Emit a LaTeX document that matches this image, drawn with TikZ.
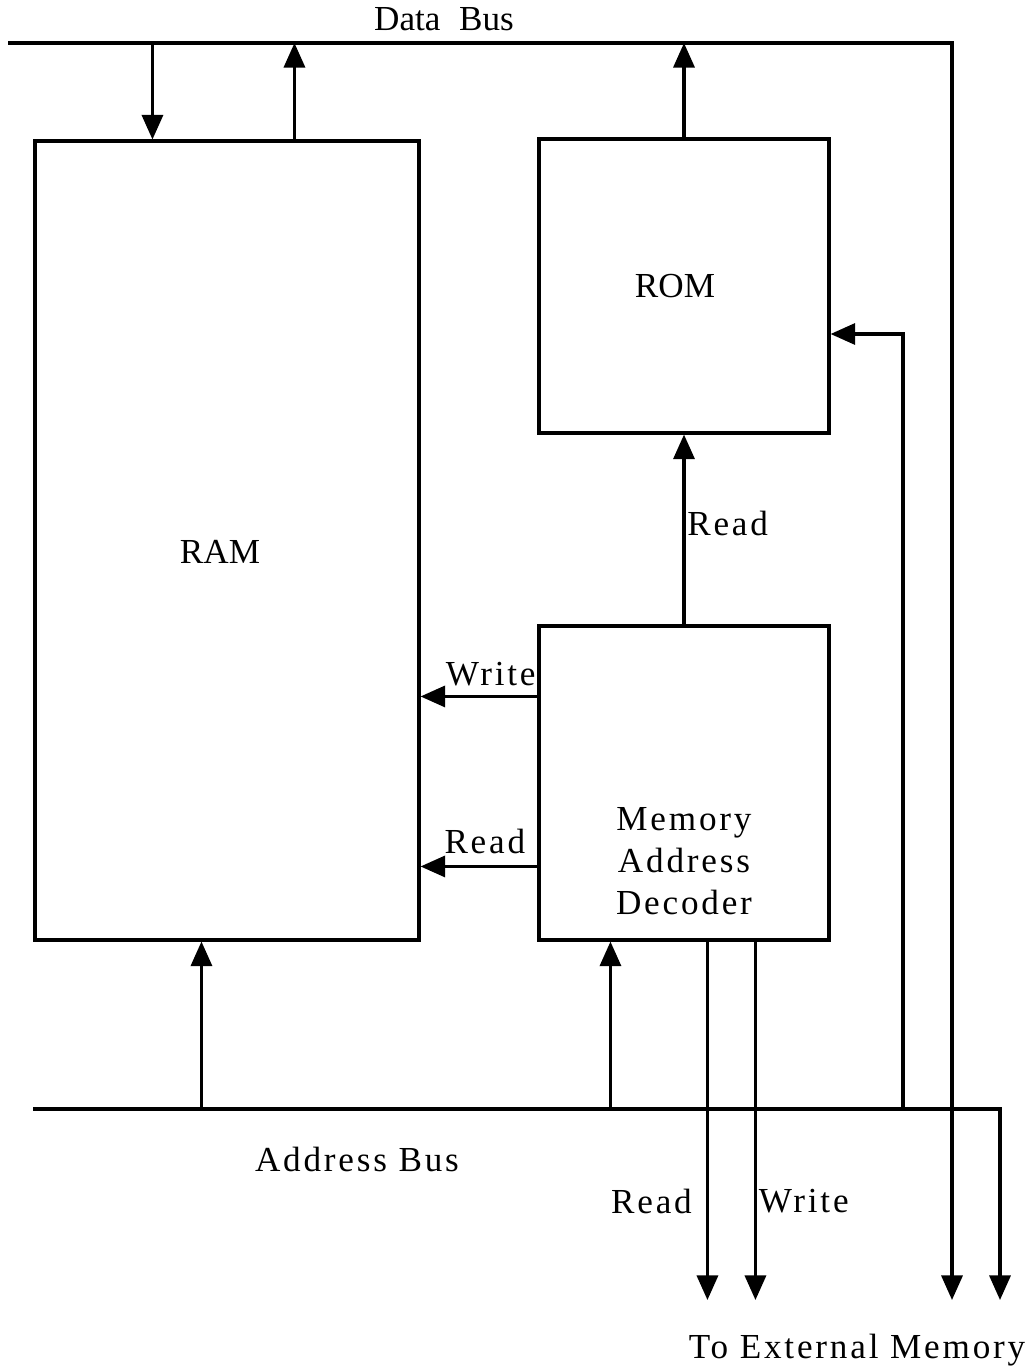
\documentclass[tikz,border=0pt]{standalone}
\usepackage{fontspec}
\setmainfont{Liberation Serif}
\newfontfamily\spacedfont[LetterSpace=8]{Liberation Serif}
\usepackage{tikz}
\usetikzlibrary{arrows.meta,positioning,calc}
\tikzset{
  block/.style      = {draw, line width=1.8pt, inner sep=0pt},
  sig/.style        = {-{Triangle[length=14pt,width=12pt]}, line width=1.8pt},
  bus/.style        = {line width=1.8pt},
  every node/.style = {font=\fontsize{20}{24}\selectfont},
  lbl/.style        = {font=\fontsize{20}{24}\selectfont\spacedfont, inner sep=2pt},
}
\begin{document}
\begin{tikzpicture}[x=0.02cm,y=-0.02cm]
  \useasboundingbox (0,0) rectangle (1035,1372);
  % memory blocks
  \node[block, minimum width=7.68cm, minimum height=15.98cm] (ram) at (227,540.5) {};
  \node at (220,552) (ramtxt) {RAM};
  \node[block, minimum width=5.8cm, minimum height=5.88cm] (rom) at (684,286) {};
  \node at (675,286) (romtxt) {ROM};
  \node[block, minimum width=5.8cm, minimum height=6.28cm] (dec) at (684,783) {};
  \node[lbl, align=center] at (684,861) (dectxt) {Memory\\Address\\Decoder};
  % data bus
  \coordinate (db0) at (8,43);
  \coordinate (db1) at (952,43);
  \coordinate (dbout) at (952,1300);
  \draw[sig] (db0) -- (db1) -- (dbout);
  \node at (444,19) (dbtxt) {Data\; Bus};
  \coordinate (ramin) at ($(ram.north west)+(119,0)$);
  \coordinate (ramout) at ($(ram.north west)+(261,0)$);
  \draw[sig] (ramin |- db0) -- (ramin);
  \draw[sig] (ramout) -- (ramout |- db0);
  \draw[sig] (rom.north) -- (rom.north |- db0);
  % address bus
  \coordinate (ab0) at (33,1109);
  \coordinate (ab1) at (1000,1109);
  \coordinate (about) at (1000,1300);
  \draw[sig] (ab0) -- (ab1) -- (about);
  \node[lbl] at (357,1159) (abtxt) {Address Bus};
  \coordinate (ramaddr) at ($(ram.south west)+(168,0)$);
  \coordinate (decaddr) at ($(dec.south west)+(73,0)$);
  \coordinate (romaddr) at ($(rom.east)+(0,48)$);
  \coordinate (abrom) at (903,1109);
  \draw[sig] (ramaddr |- ab0) -- (ramaddr);
  \draw[sig] (decaddr |- ab0) -- (decaddr);
  \draw[sig] (abrom) |- (romaddr);
  % decoder outputs
  \draw[sig] (dec.north) -- (rom.south) node[pos=0.53, right, lbl, inner sep=1pt] {Read};
  \coordinate (decw) at ($(dec.north west)+(0,72)$);
  \coordinate (decr) at ($(dec.north west)+(0,242)$);
  \draw[sig] (decw) -- (decw -| ram.east) node[pos=0.4, above, lbl, yshift=3pt] {Write};
  \draw[sig] (decr) -- (decr -| ram.east) node[pos=0.45, above, lbl, yshift=4pt] {Read};
  \coordinate (decrd) at ($(dec.south west)+(170,0)$);
  \coordinate (decwr) at ($(dec.south west)+(218,0)$);
  \draw[sig] (decrd) -- (decrd |- about) node[pos=0.725, left, lbl, inner sep=8pt] {Read};
  \draw[sig] (decwr) -- (decwr |- about) node[pos=0.725, right, lbl, inner sep=1pt] {Write};
  \node[lbl] at (857,1350) (exttxt) {To External Memory};
\end{tikzpicture}
\end{document}
